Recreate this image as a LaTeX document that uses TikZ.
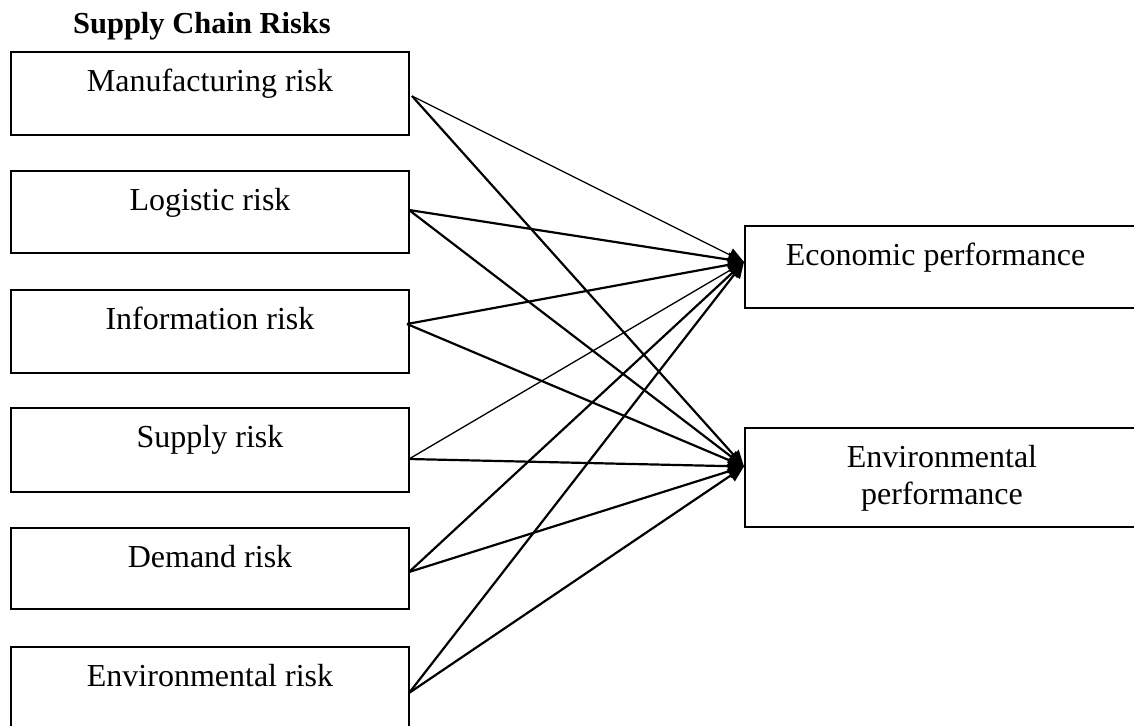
\documentclass[tikz,border=0pt]{standalone}
\usepackage{fontspec}
\setmainfont{Liberation Serif}
\usetikzlibrary{arrows.meta,calc}

\begin{document}
\begin{tikzpicture}[x=1pt,y=-1pt,
  riskbox/.style={draw, line width=1.7pt, minimum width=398pt, inner sep=0pt, outer sep=0pt},
  perfbox/.style={draw, line width=1.7pt, minimum width=405pt, inner sep=0pt, outer sep=0pt},
  lbl/.style={anchor=base, font=\fontsize{32}{37}\selectfont, inner sep=0pt, align=center},
  heavy/.style={line width=2.2pt, -{Triangle[length=16pt,width=14pt]}},
  light/.style={line width=1.3pt, -{Triangle[length=16pt,width=14pt]}}
]
\useasboundingbox (0,0) rectangle (1134,725);
\clip (0,0) rectangle (1134,725);

% heading
\node[lbl, font=\fontsize{30.5}{35}\selectfont\bfseries] (head) at (202,34) {Supply Chain Risks};

% risk boxes on the left
\node[riskbox, minimum height=83pt] (b1) at (210,93.5) {};
\node[riskbox, minimum height=82pt] (b2) at (210,212) {};
\node[riskbox, minimum height=83pt] (b3) at (210,331.5) {};
\node[riskbox, minimum height=84pt] (b4) at (210,450) {};
\node[riskbox, minimum height=81pt] (b5) at (210,568.5) {};
\node[riskbox, minimum height=84pt] (b6) at (210,689) {};

\node[lbl] (l1) at ($(b1.north)+(0,39)$) {Manufacturing risk};
\node[lbl] (l2) at ($(b2.north)+(0,39)$) {Logistic risk};
\node[lbl] (l3) at ($(b3.north)+(0,39)$) {Information risk};
\node[lbl] (l4) at ($(b4.north)+(0,39)$) {Supply risk};
\node[lbl] (l5) at ($(b5.north)+(0,39)$) {Demand risk};
\node[lbl] (l6) at ($(b6.north)+(0,39)$) {Environmental risk};

% performance boxes on the right
\node[perfbox, minimum height=82pt] (e1) at (947.5,267) {};
\node[perfbox, minimum height=99pt] (e2) at (947.5,477.5) {};
\node[lbl] (m1) at (935.5,265) {Economic performance};
\node[lbl] (m2) at (942,504) {Environmental\\performance};

% connector ends
\coordinate (s1) at ($(b1.east)+(3,2.5)$);
\coordinate (s2) at ($(b2.east)+(0,-2)$);
\coordinate (s3) at ($(b3.east)+(-2,-7.5)$);
\coordinate (s4) at ($(b4.east)+(0,9)$);
\coordinate (s5) at ($(b5.east)+(0,3.5)$);
\coordinate (s6) at ($(b6.east)+(0,4)$);
\coordinate (t1) at ($(e1.west)+(-1,-5)$);
\coordinate (t2) at ($(e2.west)+(-1,-11)$);

% every risk to both outcomes
\draw[light] (s1) -- (t1);
\draw[heavy] (s1) -- (t2);
\draw[heavy] (s2) -- (t1);
\draw[heavy] (s2) -- (t2);
\draw[heavy] (s3) -- (t1);
\draw[heavy] (s3) -- (t2);
\draw[light] (s4) -- (t1);
\draw[heavy] (s4) -- (t2);
\draw[heavy] (s5) -- (t1);
\draw[heavy] (s5) -- (t2);
\draw[heavy] (s6) -- (t1);
\draw[heavy] (s6) -- (t2);
\end{tikzpicture}
\end{document}
